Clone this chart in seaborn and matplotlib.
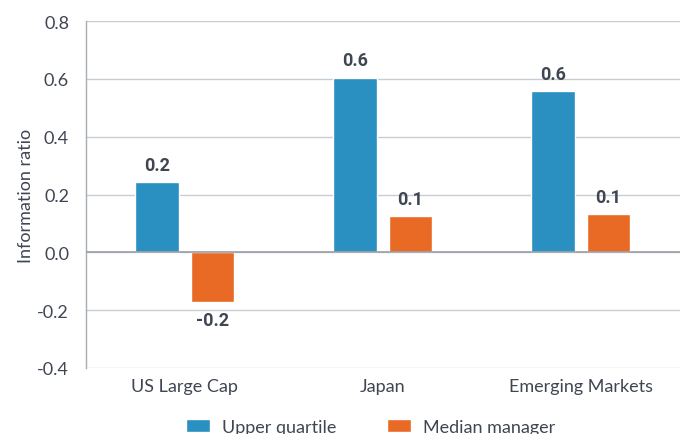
import matplotlib
matplotlib.use("Agg")
import matplotlib.pyplot as plt
import seaborn as sns
import pandas as pd

categories = ["US Large Cap", "Japan", "Emerging Markets"]
series = ["Upper quartile", "Median manager"]
upper_quartile = [0.242, 0.604, 0.558]
median_manager = [-0.173, 0.126, 0.133]
y_ticks = [-0.4, -0.2, 0.0, 0.2, 0.4, 0.6, 0.8]

colors = {"Upper quartile": "#2A8FC1", "Median manager": "#E96A24"}
text_color = "#3F4652"
grid_color = "#C9CCD3"

df = pd.DataFrame({
    "category": categories * 2,
    "series": [series[0]] * 3 + [series[1]] * 3,
    "value": upper_quartile + median_manager,
})

sns.set_style("white")
plt.rcParams["font.family"] = ["Lato", "DejaVu Sans"]

fig = plt.figure(figsize=(6.86, 4.35), dpi=100)
ax = fig.add_axes([0.125, 0.152, 0.866, 0.797])

sns.barplot(data=df, x="category", y="value", hue="series", order=categories,
            hue_order=series, palette=colors, width=0.56, gap=0.21,
            saturation=1, errorbar=None, ax=ax, zorder=3)

ax.set_ylim(-0.4, 0.8)
ax.set_yticks(y_ticks)
ax.set_yticklabels([f"{t:.1f}" for t in y_ticks])
ax.yaxis.grid(True, color=grid_color, linewidth=1, zorder=0)
ax.axhline(0, color="#9A9EA6", linewidth=1.2, zorder=4)

for side in ["top", "right", "bottom"]:
    ax.spines[side].set_visible(False)
ax.spines["left"].set_color("#A8ACB3")
ax.spines["left"].set_linewidth(1)

ax.tick_params(axis="y", colors=grid_color, length=5, width=1, labelsize=13,
               labelcolor=text_color, pad=7)
ax.tick_params(axis="x", length=0, labelsize=13, labelcolor=text_color, pad=7)
ax.set_xlabel("")
ax.set_ylabel("Information ratio", fontsize=13, color=text_color, labelpad=2)

for container in ax.containers:
    for bar in container:
        v = bar.get_height()
        x = bar.get_x() + bar.get_width() / 2
        if v >= 0:
            ax.annotate(f"{v:.1f}", (x, v), xytext=(0, 6), textcoords="offset points",
                        ha="center", va="bottom", fontsize=13, fontweight="bold",
                        color=text_color, family=["Roboto", "DejaVu Sans"])
        else:
            ax.annotate(f"{v:.1f}", (x, v), xytext=(0, -6), textcoords="offset points",
                        ha="center", va="top", fontsize=13, fontweight="bold",
                        color=text_color, family=["Roboto", "DejaVu Sans"])

leg = ax.legend(loc="upper center", bbox_to_anchor=(0.48, -0.1), ncol=2,
                frameon=False, fontsize=13, handlelength=1.3, handleheight=0.7,
                columnspacing=2.8, handletextpad=0.7)
for t in leg.get_texts():
    t.set_color(text_color)

fig.savefig("out.png", dpi=100)
